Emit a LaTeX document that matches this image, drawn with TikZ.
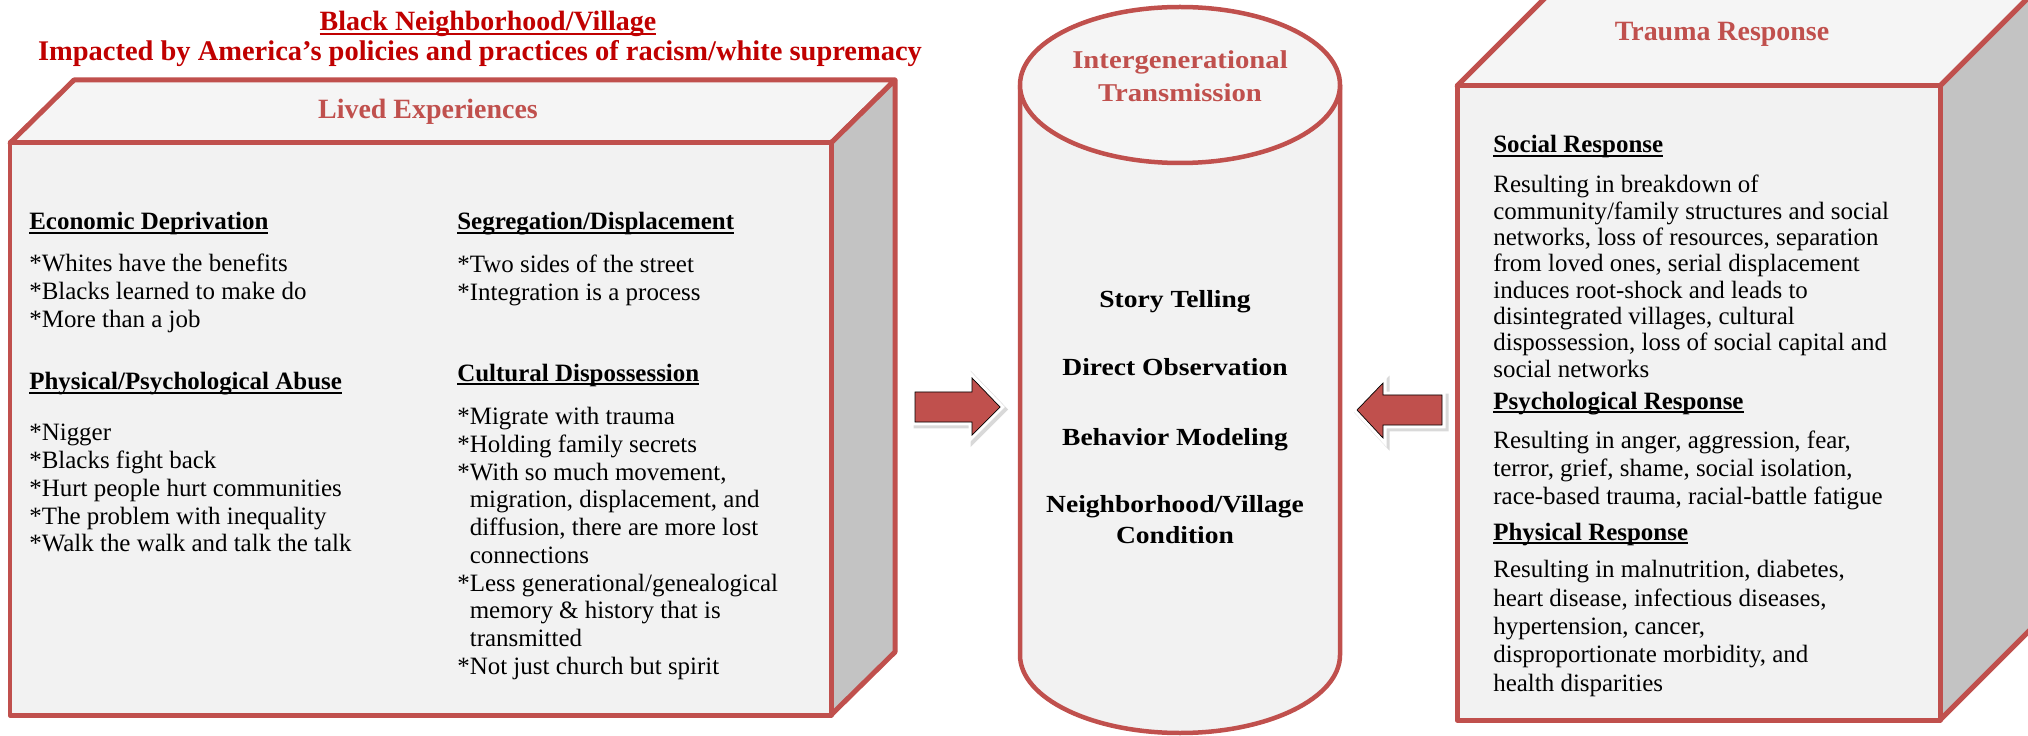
\documentclass[tikz,border=0pt]{standalone}
\usepackage{fontspec}
\setmainfont{Liberation Serif}
\newfontfamily\wideserif[FakeStretch=1.12]{Liberation Serif}
\definecolor{boxred}{HTML}{C0504D}
\definecolor{titlered}{HTML}{C00000}
\definecolor{facegray}{HTML}{F2F2F2}
\definecolor{topgray}{HTML}{F5F5F5}
\definecolor{sidegray}{HTML}{C3C3C3}
\newcommand{\ulhead}[1]{\setbox0\hbox{#1}\rlap{\rule[-2.4pt]{\wd0}{1.3pt}}\box0}
\begin{document}
\begin{tikzpicture}[x=0.02cm, y=-0.02cm,
    face/.style={draw=boxred, line width=0.1cm, line join=round},
    body/.style={anchor=north west, yshift=12pt, align=left, inner sep=0pt,
        execute at begin node={\rule{0pt}{12pt}}, font=\fontsize{14.2}{15.8}\selectfont},
    headtxt/.style={anchor=base west, inner sep=0pt, font=\fontsize{14.2}{15.8}\selectfont\bfseries},
    captxt/.style={anchor=base, inner sep=0pt, text=boxred, font=\fontsize{15.9}{18}\selectfont\bfseries},
    cyl/.style={anchor=base, align=center, inner sep=0pt, font=\wideserif\fontsize{14}{17.6}\selectfont\bfseries},
    cyltwo/.style={cyl, anchor=north, yshift=12pt, execute at begin node={\rule{0pt}{12pt}}},
    blockarr/.style={fill=boxred,
        preaction={draw=black!15, line width=0.16cm, transform canvas={shift={(0.05cm,-0.05cm)}}},
        preaction={draw=white, line width=0.14cm}}]
    \useasboundingbox (0,0) rectangle (2028,736);
    \clip (0,0) rectangle (2028,736);

    % title
    \node[captxt, text=titlered] (ttl) at (488,31) {\ulhead{Black Neighborhood/Village}};
    \node[captxt, text=titlered, font=\fontsize{16.2}{18}\selectfont\bfseries] (sub) at (480,61) {Impacted by America’s policies and practices of racism/white supremacy};

    % left cube
    \filldraw[face, fill=topgray] (10,143) -- (74,80) -- (895,80) -- (831,143) -- cycle;
    \filldraw[face, fill=sidegray] (831,143) -- (895,80) -- (895,652) -- (831,715) -- cycle;
    \filldraw[face, fill=facegray] (10,143) rectangle (831,715);
    \node[captxt] (lived) at (428,119) {Lived Experiences};

    \node[headtxt] (econ) at (29,230) {\ulhead{Economic Deprivation}};
    \node[body] (econtxt) at (29,275) {*Whites have the benefits\\*Blacks learned to make do\\*More than a job};
    \node[headtxt] (abuse) at (29,390) {\ulhead{Physical/Psychological Abuse}};
    \node[body] (abusetxt) at (29,445) {*Nigger\\*Blacks fight back\\*Hurt people hurt communities\\*The problem with inequality\\*Walk the walk and talk the talk};

    \node[headtxt] (segr) at (457,230) {\ulhead{Segregation/Displacement}};
    \node[body] (segrtxt) at (457,276) {*Two sides of the street\\*Integration is a process};
    \node[headtxt] (cult) at (457,381) {\ulhead{Cultural Dispossession}};
    \node[body] (culttxt) at (457,428) {*Migrate with trauma\\*Holding family secrets\\*With so much movement,\\\phantom{*}migration, displacement, and\\\phantom{*}diffusion, there are more lost\\\phantom{*}connections\\*Less generational/genealogical\\\phantom{*}memory \& history that is\\\phantom{*}transmitted\\*Not just church but spirit};

    % cylinder
    \filldraw[face, fill=facegray, line width=0.09cm] (1020,85) -- (1020,655)
        arc[start angle=180, end angle=0, x radius=160, y radius=78] -- (1340,85);
    \filldraw[face, fill=topgray, line width=0.09cm] (1180,85) ellipse[x radius=160, y radius=78];
    \node[cyltwo, text=boxred, font=\wideserif\fontsize{14.6}{19}\selectfont\bfseries] (igt) at (1180,71) {Intergenerational\\Transmission};
    \node[cyl] (story) at (1175,308) {Story Telling};
    \node[cyl] (obs) at (1175,376) {Direct Observation};
    \node[cyl] (model) at (1175,445) {Behavior Modeling};
    \node[cyltwo] (cond) at (1175,516) {Neighborhood/Village\\Condition};

    % arrows
    \filldraw[blockarr] (915,392) -- (972,392) -- (972,378) -- (1000,407) -- (972,435) -- (972,422) -- (915,422) -- cycle;
    \filldraw[blockarr] (1442,395) -- (1383,395) -- (1383,383) -- (1357,410) -- (1383,438) -- (1383,425) -- (1442,425) -- cycle;

    % right cube
    \filldraw[face, fill=topgray] (1457,86) -- (1567,-24) -- (2050,-24) -- (1940,86) -- cycle;
    \filldraw[face, fill=sidegray] (1940,86) -- (2050,-24) -- (2050,610) -- (1940,720) -- cycle;
    \filldraw[face, fill=facegray] (1457,86) rectangle (1940,720);
    \node[captxt] (trauma) at (1722,41) {Trauma Response};

    \node[headtxt] (soc) at (1493,153) {\ulhead{Social Response}};
    \node[body, font=\fontsize{14.2}{15.0}\selectfont] (soctxt) at (1493,196) {Resulting in breakdown of\\community/family structures and social\\networks, loss of resources, separation\\from loved ones, serial displacement\\induces root-shock and leads to\\disintegrated villages, cultural\\dispossession, loss of social capital and\\social networks};
    \node[headtxt] (psy) at (1493,409) {\ulhead{Psychological Response}};
    \node[body, font=\fontsize{14.2}{15.8}\selectfont] (psytxt) at (1493,452) {Resulting in anger, aggression, fear,\\terror, grief, shame, social isolation,\\race-based trauma, racial-battle fatigue};
    \node[headtxt] (phy) at (1493,540) {\ulhead{Physical Response}};
    \node[body, font=\fontsize{14.2}{16.2}\selectfont] (phytxt) at (1493,581) {Resulting in malnutrition, diabetes,\\heart disease, infectious diseases,\\hypertension, cancer,\\disproportionate morbidity, and\\health disparities};
\end{tikzpicture}
\end{document}
